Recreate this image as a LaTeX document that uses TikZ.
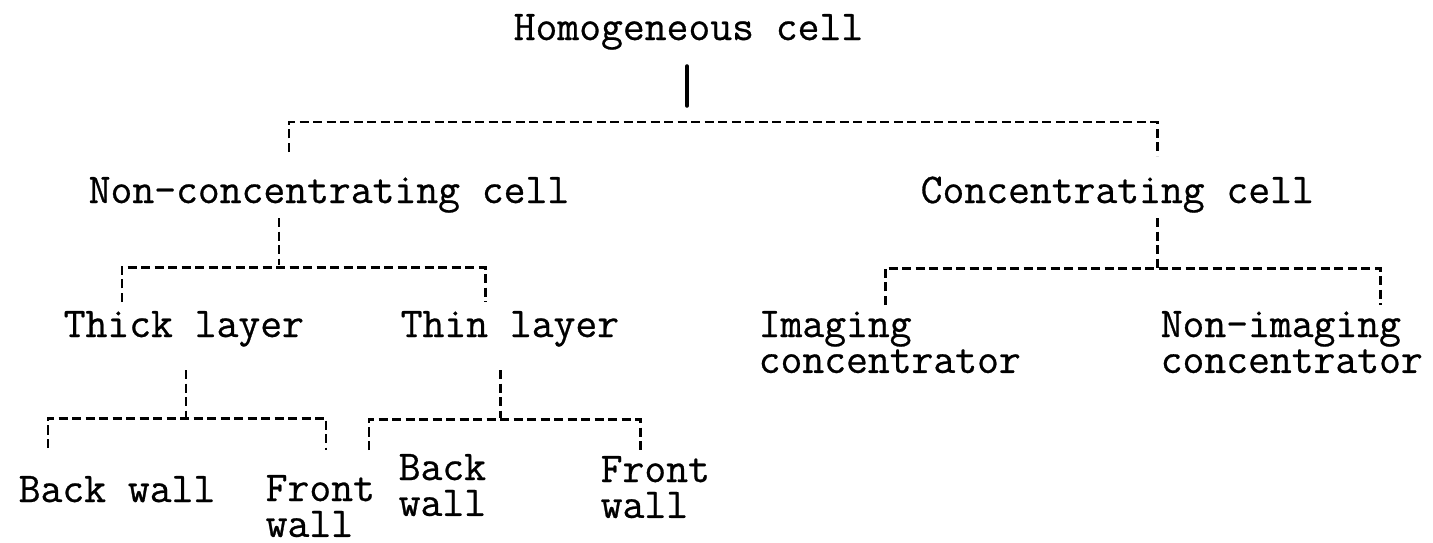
\documentclass[tikz,border=0pt]{standalone}
\usepackage{fontspec}
\newfontfamily\typer{Latin Modern Mono}[FakeBold=0.6]
\newcommand{\twoline}[2]{\vtop{\hbox{#1}\hbox{#2}}}
\begin{document}
\begin{tikzpicture}[x=0.01cm, y=-0.01cm,
  label/.style={anchor=base west, inner sep=0pt, font=\typer\fontsize{12.06pt}{10.2pt}\selectfont},
  link/.style={line width=0.85pt, dash pattern=on 0.09cm off 0.045cm, line join=miter},
  stem/.style={line width=1.0pt, line cap=round}]
\useasboundingbox (0,0) rectangle (1433,542);

% labels
\node[label] (root)   at (513,40)  {Homogeneous cell};
\node[label] (noncon) at (88,203)  {Non-concentrating cell};
\node[label] (con)    at (920,203) {Concentrating cell};
\node[label] (thick)  at (63,337)  {Thick layer};
\node[label] (thin)   at (400,337) {Thin layer};
\node[label] (imag)   at (758,337) {\twoline{Imaging}{concentrator}};
\node[label] (nonimag) at (1160,337) {\twoline{Non-imaging}{concentrator}};
\node[label] (tkback)  at (18,502)  {Back wall};
\node[label] (tkfront) at (265,501) {\twoline{Front}{wall}};
\node[label] (tnback)  at (398,480) {\twoline{Back}{wall}};
\node[label] (tnfront) at (600,482) {\twoline{Front}{wall}};

% joints of the branching lines
\coordinate (r0) at (687,66);   \coordinate (r1) at (687,106);
\coordinate (a1) at (289,152);  \coordinate (a2) at (289,122);
\coordinate (a3) at (1157,122); \coordinate (a4) at (1157,156);

\coordinate (n0) at (279,218);  \coordinate (n1) at (279,265);
\coordinate (b1) at (122,302);  \coordinate (b2) at (122,267);
\coordinate (b3) at (485,267);  \coordinate (b4) at (485,302);

\coordinate (c0) at (1157,218); \coordinate (c1) at (1157,268);
\coordinate (d1) at (885,305);  \coordinate (d2) at (885,268);
\coordinate (d3) at (1380,268); \coordinate (d4) at (1380,305);

\coordinate (k0) at (186,370);  \coordinate (k1) at (186,418);
\coordinate (e1) at (48,448);   \coordinate (e2) at (48,418);
\coordinate (e3) at (326,418);  \coordinate (e4) at (326,450);

\coordinate (t0) at (500,370);  \coordinate (t1) at (500,418);
\coordinate (f1) at (369,450);  \coordinate (f2) at (369,419);
\coordinate (f3) at (640,419);  \coordinate (f4) at (640,450);

% connectors
\draw[stem] (r0) -- (r1);
\draw[link] (a1) -- (a2) -- (a3) -- (a4);

\draw[link] (n0) -- (n1);
\draw[link] (b1) -- (b2) -- (b3) -- (b4);

\draw[link] (c0) -- (c1);
\draw[link] (d1) -- (d2) -- (d3) -- (d4);

\draw[link] (k0) -- (k1);
\draw[link] (e1) -- (e2) -- (e3) -- (e4);

\draw[link] (t0) -- (t1);
\draw[link] (f1) -- (f2) -- (f3) -- (f4);
\end{tikzpicture}
\end{document}
